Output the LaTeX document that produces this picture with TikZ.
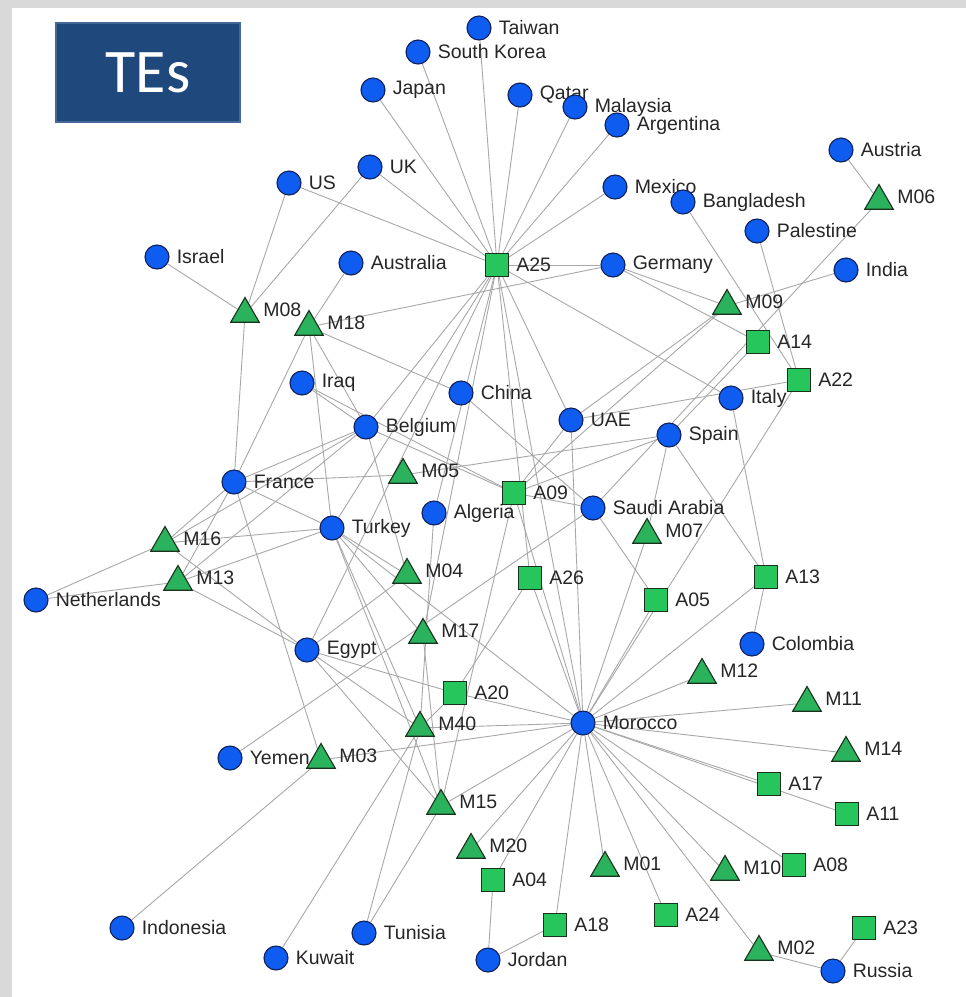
\documentclass[tikz,border=0pt]{standalone}
\usepackage{fontspec}
\setmainfont{Liberation Sans}
\newfontfamily\titlefont{Carlito}
\usetikzlibrary{shapes.geometric}
\pgfdeclarelayer{paper}
\pgfdeclarelayer{edges}
\pgfsetlayers{paper,edges,main}

\definecolor{pagegray}{RGB}{217,217,217}
\definecolor{ctryfill}{RGB}{14,92,240}
\definecolor{ctryedge}{RGB}{16,32,90}
\definecolor{trifill}{RGB}{42,178,92}
\definecolor{sqfill}{RGB}{38,198,92}
\definecolor{greenedge}{RGB}{24,50,30}
\definecolor{linkgray}{RGB}{168,168,168}
\definecolor{titlefill}{RGB}{31,73,125}
\definecolor{titleedge}{RGB}{70,104,150}

\begin{document}
\begin{tikzpicture}[x=1pt,y=-1pt,
  every label/.style={font=\fontsize{19.5}{21}\selectfont, text=black!85, inner sep=0pt},
  country/.style={circle, draw=ctryedge, fill=ctryfill, line width=1.1pt,
    minimum size=24pt, inner sep=0pt},
  ctry/.style={country, label={[label distance=7pt]right:{#1}}},
  tri/.style={regular polygon, regular polygon sides=3, draw=greenedge, fill=trifill,
    line width=1.1pt, minimum size=33pt, inner sep=0pt,
    label={[label distance=8pt, yshift=4pt]right:{#1}}},
  sq/.style={rectangle, draw=greenedge, fill=sqfill, line width=1.1pt,
    minimum size=23pt, inner sep=0pt, label={[label distance=7pt]right:{#1}}},
  edge/.style={draw=linkgray, line width=0.9pt}]

% page and frame
\begin{pgfonlayer}{paper}
\fill[pagegray] (0,0) rectangle (966,997);
\fill[white] (12,8) rectangle (966,997);
\end{pgfonlayer}
\useasboundingbox (0,0) rectangle (966,997);

% title box
\node[draw=titleedge, line width=2pt, fill=titlefill, minimum width=184pt,
  minimum height=99pt, text=white, font=\titlefont\fontsize{62}{62}\selectfont]
  (title) at (148,72.5) {TEs};

% countries
\node[ctry=Taiwan] (taiwan) at (479,28) {};
\node[ctry=South Korea] (skorea) at (418,52) {};
\node[ctry=Japan] (japan) at (373,90) {};
\node[ctry=Qatar] (qatar) at (520,95) {};
\node[ctry=Malaysia] (malaysia) at (575,107) {};
\node[ctry=Argentina] (argentina) at (617,125) {};
\node[ctry=UK] (uk) at (370,167) {};
\node[ctry=Mexico] (mexico) at (615,187) {};
\node[ctry=US] (us) at (289,183) {};
\node[ctry=Australia] (australia) at (351,263) {};
\node[ctry=Germany] (germany) at (613,265) {};
\node[ctry=Israel] (israel) at (157,257) {};
\node[ctry=Austria] (austria) at (841,150) {};
\node[ctry=Bangladesh] (bangladesh) at (683,202) {};
\node[ctry=Palestine] (palestine) at (757,231) {};
\node[ctry=India] (india) at (846,270) {};
\node[ctry=Italy] (italy) at (731,398) {};
\node[ctry=Spain] (spain) at (669,435) {};
\node[ctry=Colombia] (colombia) at (752,644) {};
\node[ctry=Iraq] (iraq) at (302,383) {};
\node[ctry=France] (france) at (234,482) {};
\node[ctry=Netherlands] (netherlands) at (36,600) {};
\node[ctry=Turkey] (turkey) at (332,528) {};
\node[ctry=Egypt] (egypt) at (307,650) {};
\node[ctry=China] (china) at (461,393) {};
\node[ctry=Belgium] (belgium) at (366,427) {};
\node[ctry=UAE] (uae) at (571,420) {};
\node[ctry=Saudi Arabia] (saudi) at (593,508) {};
\node[ctry=Algeria] (algeria) at (434,513) {};
\node[ctry=Morocco] (morocco) at (583,723) {};
\node[ctry=Yemen] (yemen) at (230,758) {};
\node[ctry=Tunisia] (tunisia) at (364,933) {};
\node[ctry=Jordan] (jordan) at (488,960) {};
\node[ctry=Indonesia] (indonesia) at (122,928) {};
\node[ctry=Kuwait] (kuwait) at (276,958) {};
\node[ctry=Russia] (russia) at (833,971) {};

% square nodes
\node[sq=A25] (a25) at (497,265) {};
\node[sq=A14] (a14) at (758,342) {};
\node[sq=A22] (a22) at (799,380) {};
\node[sq=A13] (a13) at (766,577) {};
\node[sq=A05] (a05) at (656,600) {};
\node[sq=A09] (a09) at (514,493) {};
\node[sq=A26] (a26) at (530,578) {};
\node[sq=A20] (a20) at (455,693) {};
\node[sq=A04] (a04) at (493,880) {};
\node[sq=A18] (a18) at (555,925) {};
\node[sq=A17] (a17) at (769,784) {};
\node[sq=A11] (a11) at (847,814) {};
\node[sq=A08] (a08) at (794,865) {};
\node[sq=A24] (a24) at (666,915) {};
\node[sq=A23] (a23) at (864,928) {};

% triangle nodes
\node[tri=M08] (m08) at (245,314) {};
\node[tri=M18] (m18) at (309,327) {};
\node[tri=M06] (m06) at (879,201) {};
\node[tri=M09] (m09) at (727,306) {};
\node[tri=M07] (m07) at (647,535) {};
\node[tri=M16] (m16) at (165,543) {};
\node[tri=M13] (m13) at (178,582) {};
\node[tri=M05] (m05) at (403,475) {};
\node[tri=M04] (m04) at (407,575) {};
\node[tri=M17] (m17) at (423,635) {};
\node[tri=M40] (m40) at (420,728) {};
\node[tri=M03] (m03) at (321,760) {};
\node[tri=M15] (m15) at (441,806) {};
\node[tri=M20] (m20) at (471,850) {};
\node[tri=M01] (m01) at (605,868) {};
\node[tri=M12] (m12) at (702,675) {};
\node[tri=M11] (m11) at (807,703) {};
\node[tri=M14] (m14) at (846,753) {};
\node[tri=M10] (m10) at (725,872) {};
\node[tri=M02] (m02) at (759,952) {};

% links
\begin{pgfonlayer}{edges}
\foreach \a/\b in {
  a25/taiwan, a25/skorea, a25/japan, a25/qatar, a25/malaysia, a25/argentina,
  a25/uk, a25/us, a25/mexico, a25/germany, a25/belgium, a25/turkey,
  a25/algeria, a25/m17, a25/a26, a25/morocco, a25/uae, a25/italy, a25/egypt,
  m08/israel, m08/us, m08/uk, m08/france,
  m18/australia, m18/germany, m18/france, m18/turkey, m18/belgium, m18/china,
  germany/m09, germany/a14,
  m06/austria, m06/saudi,
  m09/india, m09/uae, m09/a09,
  a22/bangladesh, a22/palestine, a22/morocco, uae/a22,
  uae/a09, uae/morocco,
  a14/spain,
  a13/italy, a13/spain, a13/colombia, a13/morocco,
  spain/m05, m05/france, spain/a09, spain/m07,
  saudi/a09, saudi/a05, saudi/yemen, china/saudi,
  belgium/iraq, iraq/a09, belgium/a09, belgium/france, belgium/m13,
  belgium/m16, belgium/m04,
  turkey/france, turkey/m16, turkey/m13, turkey/m04, turkey/m17, turkey/m40,
  turkey/m15, turkey/morocco,
  egypt/m13, egypt/m16, egypt/m04, egypt/a20, egypt/m40, egypt/m15,
  m40/a20, m40/morocco, m40/kuwait, m40/tunisia,
  algeria/m40, m15/m17, m15/morocco, m15/tunisia, m15/a09,
  m03/indonesia, m03/france, m03/morocco,
  a20/a26, a20/morocco,
  netherlands/m16, netherlands/m13, france/m16, france/m13,
  morocco/a26, morocco/a09, morocco/m07, morocco/a05, morocco/m12,
  morocco/m11, morocco/m14, morocco/a17, morocco/a11, morocco/a08,
  morocco/m10, morocco/m02, morocco/a24, morocco/m01, morocco/a18,
  morocco/a04, morocco/m20,
  m02/russia, russia/a23, a04/jordan, a18/jordan}
  \draw[edge] (\a) -- (\b);
\end{pgfonlayer}
\end{tikzpicture}
\end{document}
